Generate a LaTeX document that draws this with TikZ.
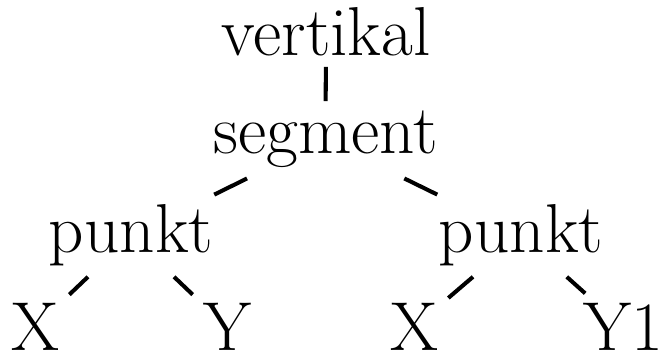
\documentclass[tikz,border=0pt]{standalone}
\usepackage{fontspec}
\usepackage{tikz}

\begin{document}
\begin{tikzpicture}[
                    x=0.02cm, y=-0.02cm,
                    word/.style={inner sep=0.2cm, anchor=base, font=\fontsize{39.4pt}{46pt}\selectfont},
                    branch/.style={line width=2.3pt}
                ]
                \useasboundingbox (0,0) rectangle (666,357);
                \node[word] (v) at (326,56) {vertikal};
                \node[word] (s) at (325.5,154) {segment};
                \node[word] (p1) at (131,253) {punkt};
                \node[word] (p2) at (521,253) {punkt};
                \node[word] (x1) at (35,351) {X};
                \node[word] (y1) at (227,351) {Y};
                \node[word] (x2) at (414,351) {X};
                \node[word] (y2) at (623,351) {Y1};

                \foreach \a/\b in {v/s, s/p1, s/p2, p1/x1, p1/y1, p2/x2, p2/y2}{
                        \draw[branch] (\a) -- (\b);
                    }
            \end{tikzpicture}
\end{document}
